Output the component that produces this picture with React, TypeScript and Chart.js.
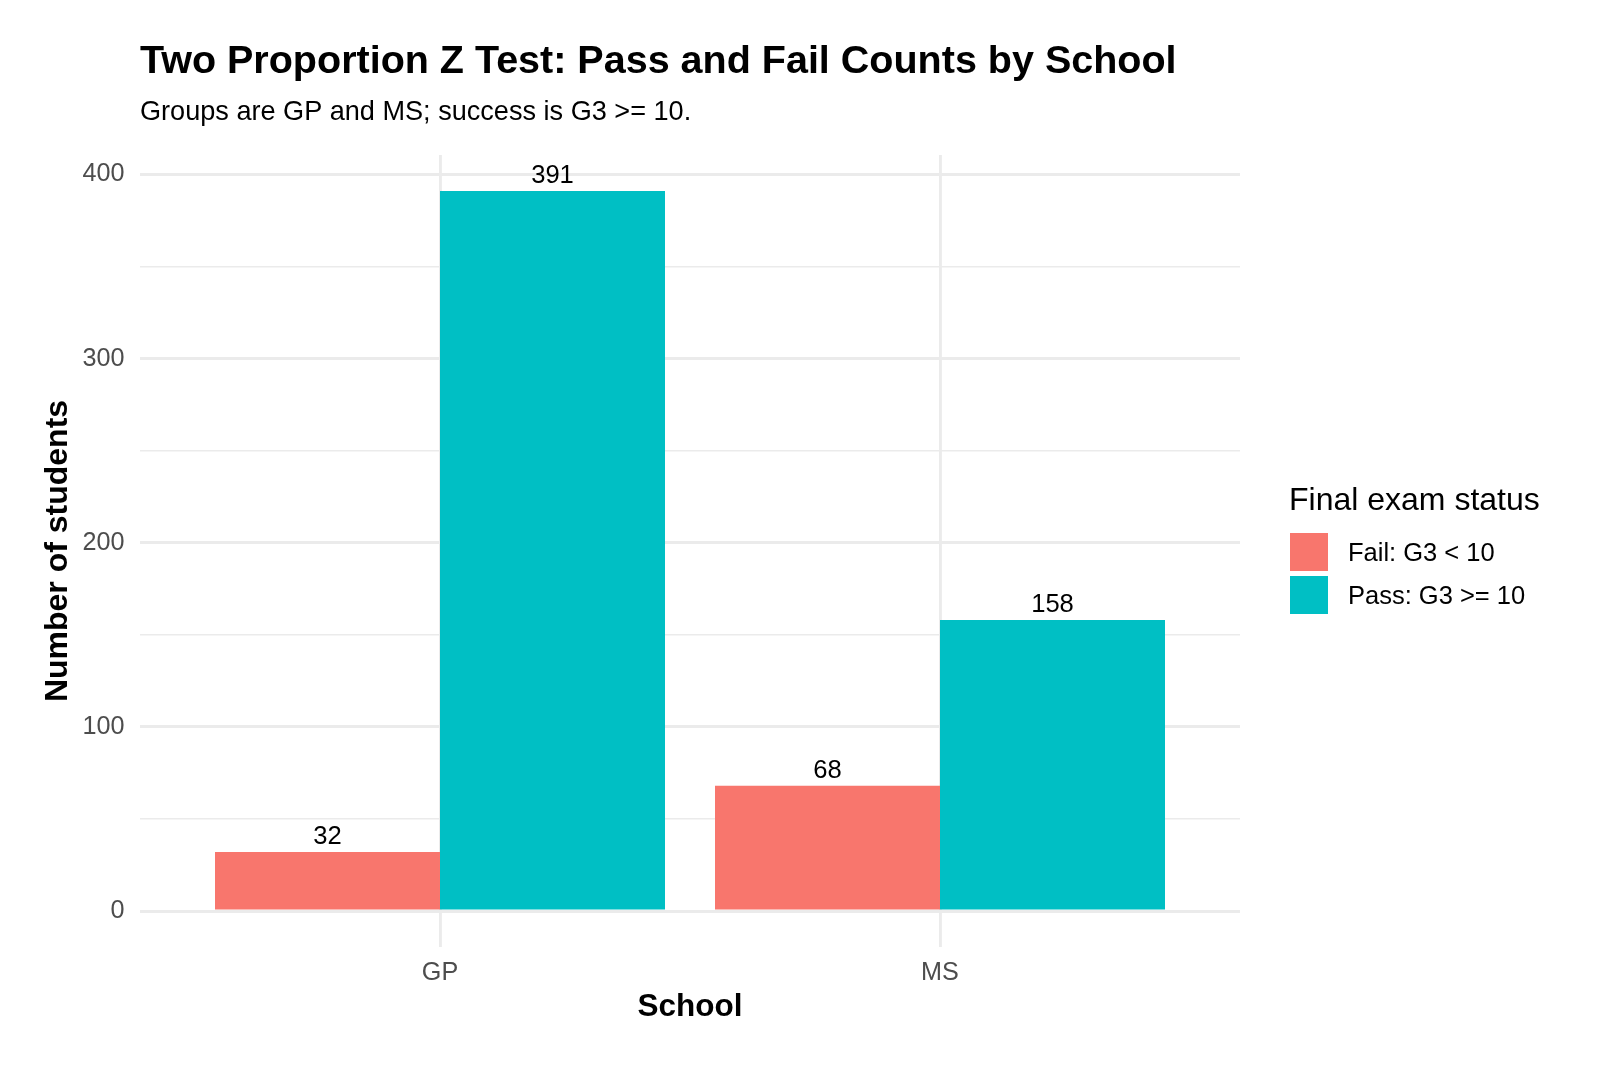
import React, { useEffect, useRef } from "react";
import { Chart, registerables } from "chart.js";

Chart.register(...registerables);

// ---- Data ----
const schools = ["GP", "MS"];
const schoolPositions = [1, 2];
const statusLabels = ["Fail: G3 < 10", "Pass: G3 >= 10"];
const failCounts = [32, 68];
const passCounts = [391, 158];
const statusColors = ["#F8766D", "#00BFC4"];
const yTickValues = [0, 50, 100, 150, 200, 250, 300, 350, 400];
const yLabelledTicks = [0, 100, 200, 300, 400];

const titleText = "Two Proportion Z Test: Pass and Fail Counts by School";
const subtitleText = "Groups are GP and MS; success is G3 >= 10.";
const xTitleText = "School";
const yTitleText = "Number of students";
const legendTitleText = "Final exam status";

const FONT = "'Liberation Sans', Arial, Helvetica, sans-serif";

const annotatePlugin = {
  id: "annotate",
  beforeDraw(chart: any) {
    const ctx = chart.ctx;
    ctx.save();
    ctx.fillStyle = "#FFFFFF";
    ctx.fillRect(0, 0, chart.width, chart.height);
    ctx.restore();
  },
  afterDatasetsDraw(chart: any) {
    const ctx = chart.ctx;
    ctx.save();
    ctx.font = `25.6px ${FONT}`;
    ctx.fillStyle = "#000000";
    ctx.textAlign = "center";
    ctx.textBaseline = "alphabetic";
    chart.data.datasets.forEach((ds: any, i: number) => {
      const meta = chart.getDatasetMeta(i);
      meta.data.forEach((el: any, j: number) => {
        const v = ds.data[j].y;
        ctx.fillText(String(v), el.x, el.y - 8);
      });
    });
    ctx.restore();
  },
  afterDraw(chart: any) {
    const ctx = chart.ctx;
    const area = chart.chartArea;
    ctx.save();
    // Title & subtitle
    ctx.textAlign = "left";
    ctx.textBaseline = "alphabetic";
    ctx.fillStyle = "#000000";
    ctx.font = `bold 39.5px ${FONT}`;
    ctx.fillText(titleText, area.left, 73);
    ctx.font = `27.1px ${FONT}`;
    ctx.fillText(subtitleText, area.left, 120);

    // Legend
    const lx = area.right + 50;
    ctx.font = `32px ${FONT}`;
    ctx.fillText(legendTitleText, lx - 1, 510);
    const keySize = 38;
    const keyTops = [533, 576];
    ctx.font = `25.5px ${FONT}`;
    ctx.textBaseline = "middle";
    statusLabels.forEach((lab, i) => {
      ctx.fillStyle = statusColors[i];
      ctx.fillRect(lx, keyTops[i], keySize, keySize);
      ctx.fillStyle = "#000000";
      ctx.fillText(lab, lx + 58, keyTops[i] + keySize / 2 + 2);
    });
    ctx.restore();
  },
};

export default function App() {
  const canvasRef = useRef<HTMLCanvasElement | null>(null);

  useEffect(() => {
    const canvas = canvasRef.current;
    if (!canvas) return;
    const allValues = [...failCounts, ...passCounts];
    const yMax = Math.max(...allValues);
    const yPad = yMax * 0.05;

    const datasets = [failCounts, passCounts].map((vals, i) => ({
      label: statusLabels[i],
      data: vals.map((v, j) => ({ x: schoolPositions[j], y: v })),
      backgroundColor: statusColors[i],
      borderWidth: 0,
      categoryPercentage: 0.9,
      barPercentage: 1.0,
    }));

    const chart = new Chart(canvas, {
      type: "bar",
      data: { datasets },
      plugins: [annotatePlugin],
      options: {
        responsive: false,
        devicePixelRatio: 1,
        animation: false,
        layout: { padding: { top: 155, right: 360, bottom: 0, left: 0 } },
        plugins: {
          legend: { display: false },
          title: { display: false },
          tooltip: { enabled: false },
        },
        scales: {
          x: {
            type: "linear",
            min: 0.4,
            max: 2.6,
            offset: false,
            afterBuildTicks: (scale: any) => {
              scale.ticks = schoolPositions.map((v) => ({ value: v }));
            },
            afterFit: (scale: any) => {
              scale.height = 120;
            },
            ticks: {
              autoSkip: false,
              maxRotation: 0,
              padding: 10.6,
              color: "#4D4D4D",
              font: { family: FONT, size: 25.2 },
              callback: (v: any) => {
                const idx = schoolPositions.indexOf(Number(v));
                return idx >= 0 ? schools[idx] : "";
              },
            },
            grid: {
              offset: false,
              color: "#EBEBEB",
              lineWidth: 2.9,
              drawTicks: false,
            },
            border: { display: false },
            title: {
              display: true,
              text: xTitleText,
              color: "#000000",
              font: { family: FONT, size: 31.5, weight: "bold" },
              padding: { top: 0, bottom: 41 },
            },
          },
          y: {
            type: "linear",
            min: 0 - yPad,
            max: yMax + yPad,
            afterBuildTicks: (scale: any) => {
              scale.ticks = yTickValues.map((v) => ({ value: v }));
            },
            afterFit: (scale: any) => {
              scale.width = 140;
            },
            ticks: {
              autoSkip: false,
              padding: 15.5,
              color: "#4D4D4D",
              font: { family: FONT, size: 25.2 },
              callback: (v: any) =>
                yLabelledTicks.includes(Number(v)) ? String(v) : "",
            },
            grid: {
              color: "#EBEBEB",
              lineWidth: (ctx: any) =>
                ctx.tick && yLabelledTicks.includes(ctx.tick.value) ? 2.9 : 1.45,
              drawTicks: false,
            },
            border: { display: false },
            title: {
              display: true,
              text: yTitleText,
              color: "#000000",
              font: { family: FONT, size: 32, weight: "bold" },
              padding: { top: 39, bottom: 0 },
            },
          },
        },
      } as any,
    });

    return () => {
      chart.destroy();
    };
  }, []);

  return (
    <div
      style={{
        position: "absolute",
        left: 0,
        top: 0,
        width: 1600,
        height: 1067,
        background: "#FFFFFF",
      }}
    >
      <canvas ref={canvasRef} width={1600} height={1067} />
    </div>
  );
}
